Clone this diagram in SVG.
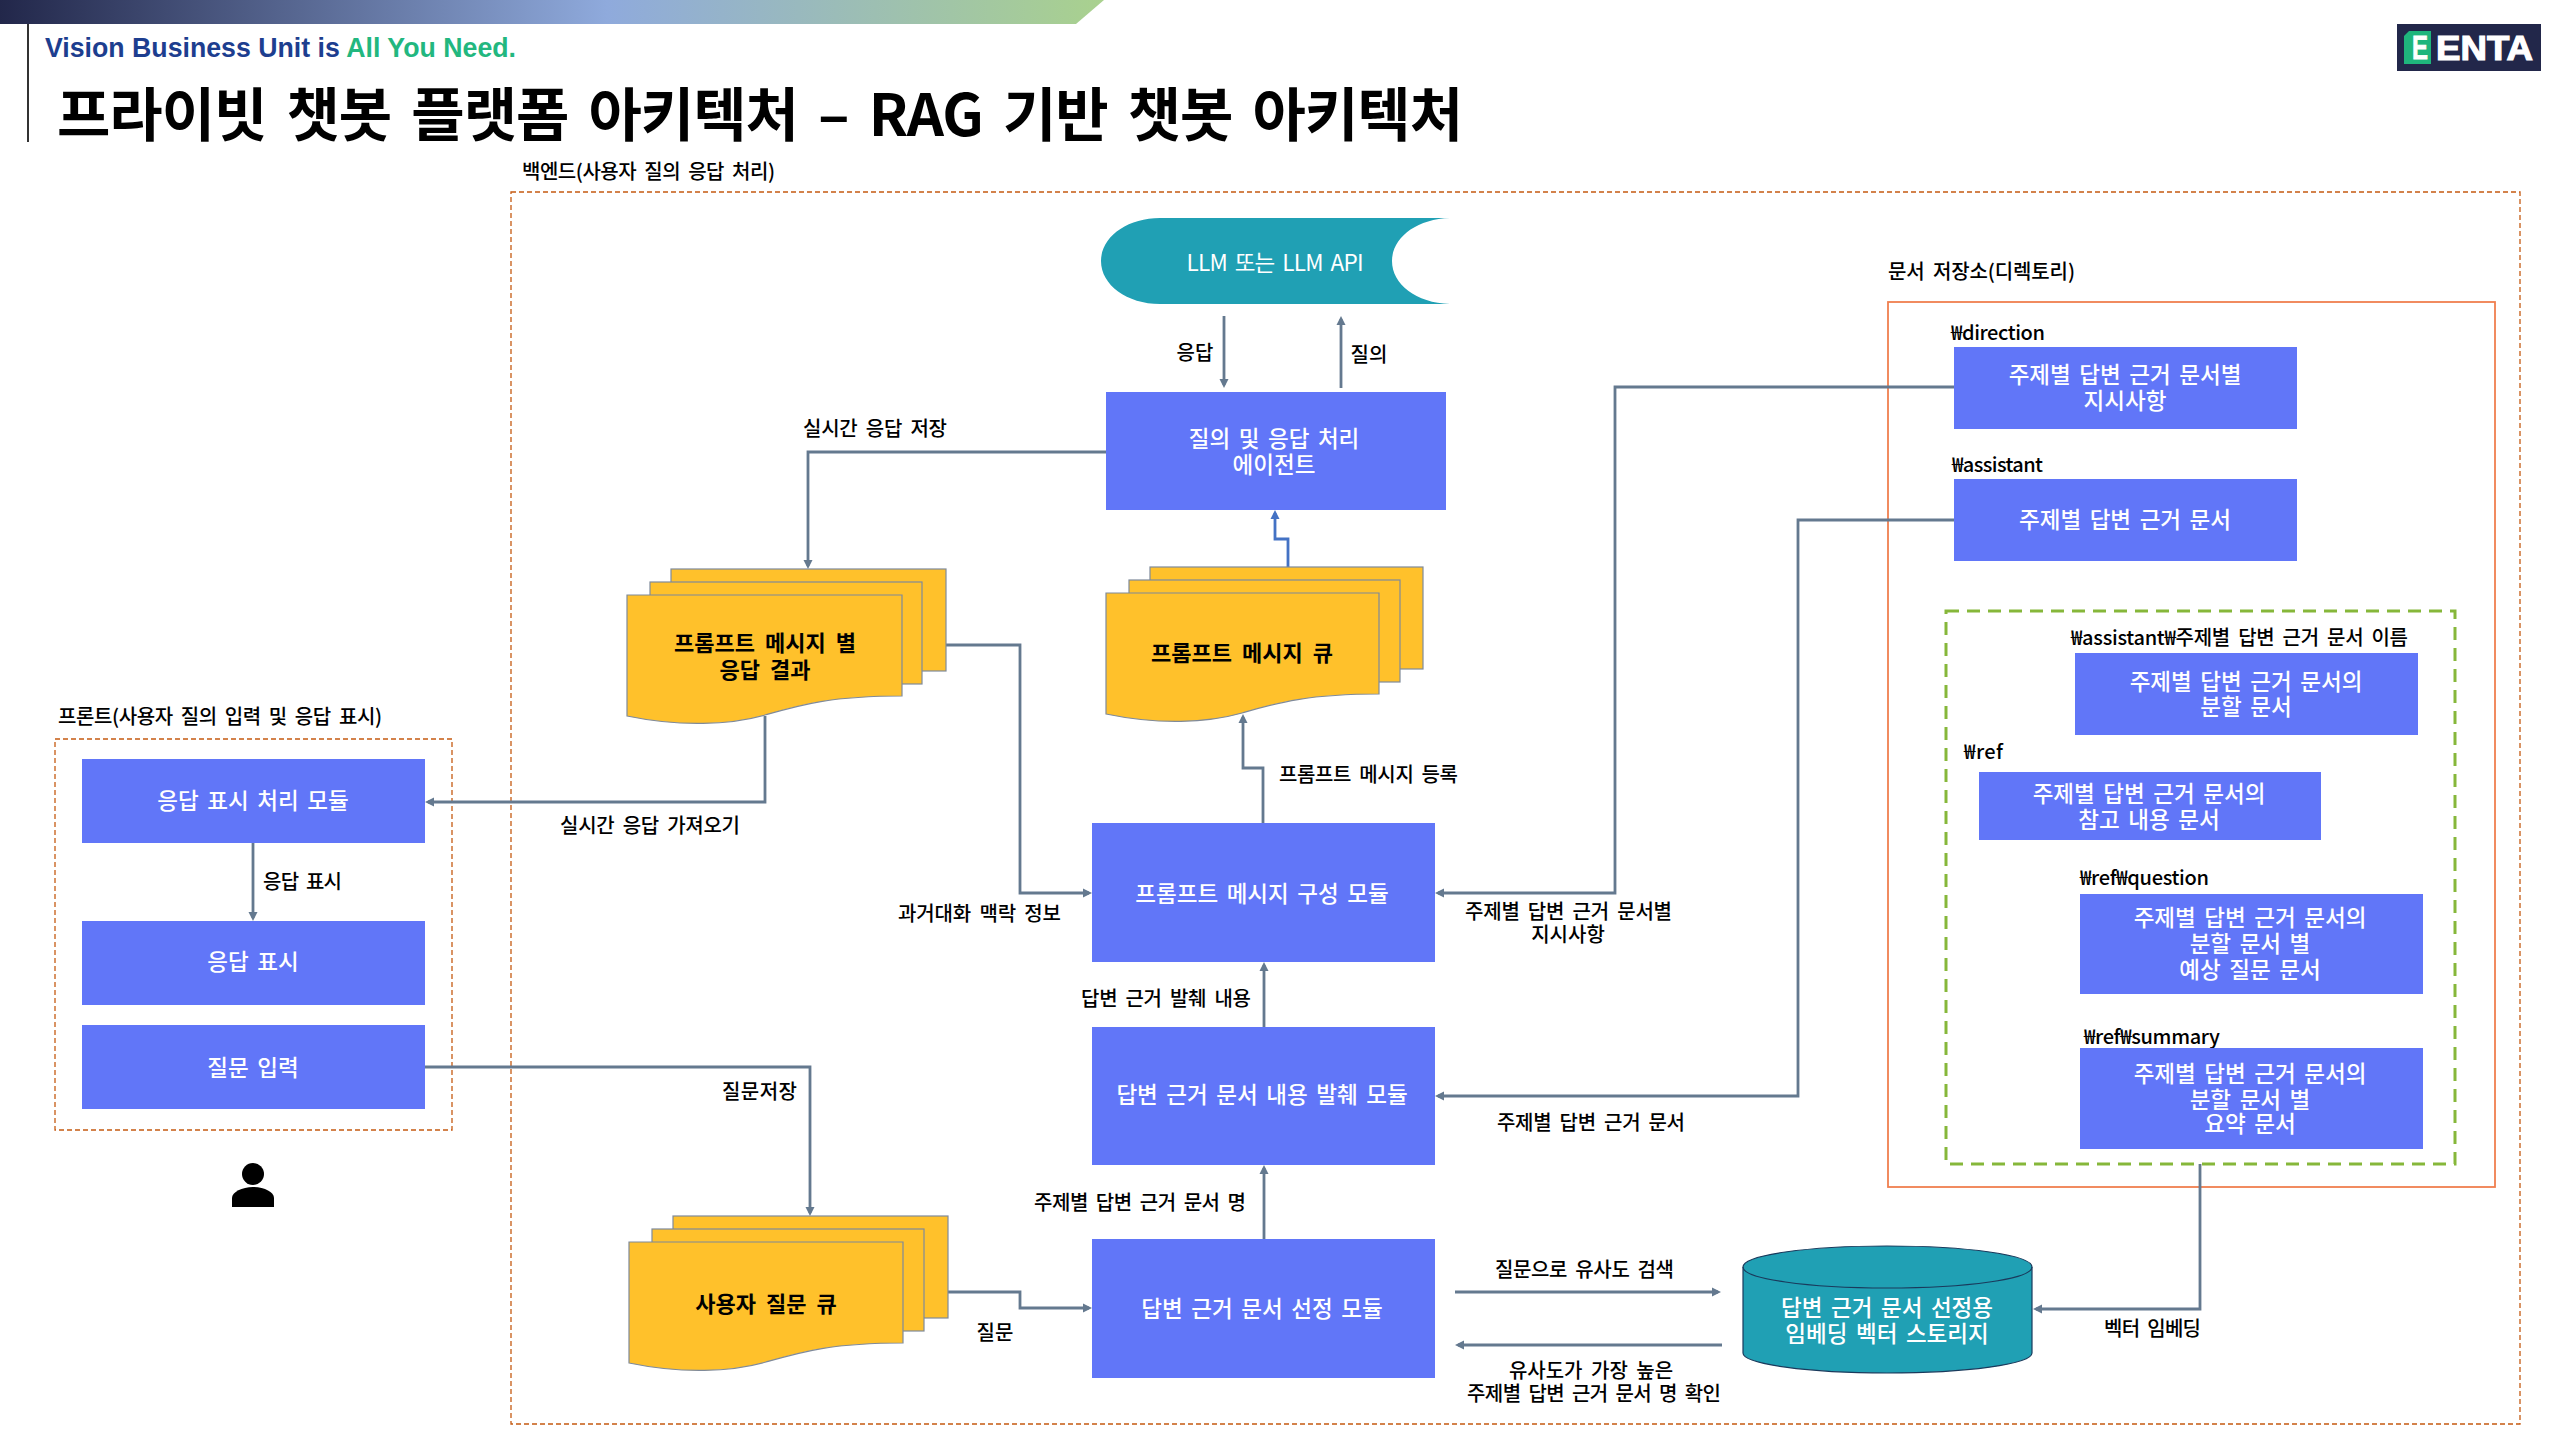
<svg xmlns="http://www.w3.org/2000/svg" width="2560" height="1440" viewBox="0 0 2560 1440">
<style>
text{font-family:"Noto Sans CJK KR","Noto Sans",sans-serif;dominant-baseline:central;transform:translateY(-1.2px)}
.box{fill:#6176F8}
.w{fill:#fff;font-size:22.5px;text-anchor:middle;font-weight:500;word-spacing:3.500px}
.k{fill:#000;font-size:20px;font-weight:500;word-spacing:4px;transform:translateY(-0.7px)}
.m{text-anchor:middle}
.b{fill:#000;font-size:22px;font-weight:700;text-anchor:middle;word-spacing:5px}
.doc{fill:#FFC12B;stroke:#7F8A9A;stroke-width:1.2}
.c{fill:none;stroke:#64798F;stroke-width:2.8}
.a{marker-end:url(#ah)}
.dash{fill:none;stroke:#C55A11;stroke-width:1.3;stroke-dasharray:5 3}
</style>
<defs>
<linearGradient id="bar" x1="0" x2="1" y1="0" y2="0"><stop offset="0" stop-color="#22274A"/><stop offset="0.55" stop-color="#8FAADC"/><stop offset="1" stop-color="#A9D18E"/></linearGradient>
<marker id="ah" markerUnits="userSpaceOnUse" markerWidth="12" markerHeight="12" viewBox="0 0 12 12" refX="8" refY="6" orient="auto"><path d="M2,1.5L11,6L2,10.500Z" fill="#64798F"/></marker>
<marker id="ab" markerUnits="userSpaceOnUse" markerWidth="12" markerHeight="12" viewBox="0 0 12 12" refX="8" refY="6" orient="auto"><path d="M2,1.5L11,6L2,10.500Z" fill="#4472C4"/></marker>
</defs>

<g id="header">
<path d="M0,0H1104L1076,24H0Z" fill="url(#bar)"/>
<rect x="27" y="24" width="2" height="118" fill="#333"/>
<text x="45" y="49" font-size="27" font-weight="700" style='font-family:"Liberation Sans",sans-serif' fill="#1D3E8F" textLength="471" lengthAdjust="spacingAndGlyphs">Vision Business Unit is <tspan fill="#22B77F">All You Need.</tspan></text>
<text x="57" y="112" font-size="58" font-weight="700" fill="#000" word-spacing="8" textLength="1406">프라이빗 챗봇 플랫폼 아키텍처 – RAG 기반 챗봇 아키텍처</text>
</g>
<g id="logo">
<rect x="2397" y="24" width="144" height="47" fill="#22274A"/>
<path d="M2409,31H2431V64H2404V36Z" fill="#1FB57C"/>
<text x="2412" y="49" font-size="33" font-weight="700" fill="#fff" stroke="#fff" stroke-width="0.8" style='font-family:"Liberation Sans",sans-serif' textLength="16" lengthAdjust="spacingAndGlyphs">E</text>
<text x="2436" y="49" font-size="35" font-weight="700" fill="#fff" stroke="#fff" stroke-width="1.200" style='font-family:"Liberation Sans",sans-serif' textLength="97" lengthAdjust="spacingAndGlyphs">ENTA</text>
</g>

<g id="backend-group">
<rect class="dash" x="511" y="192" width="2009" height="1232"/>
<text class="k" x="522" y="171" textLength="253">백엔드(사용자 질의 응답 처리)</text>
</g>
<g id="front-group">
<rect class="dash" x="55" y="739" width="397" height="391"/>
<text class="k" x="58" y="716" textLength="324">프론트(사용자 질의 입력 및 응답 표시)</text>
</g>
<g id="store-group">
<rect x="1888" y="302" width="607" height="885" fill="none" stroke="#F07F4F" stroke-width="1.8"/>
<text class="k" x="1888" y="271" textLength="187">문서 저장소(디렉토리)</text>
<rect x="1946" y="611" width="509" height="553" fill="none" stroke="#86B73A" stroke-width="3" stroke-dasharray="13 8"/>
<text class="k" x="1951" y="332" textLength="94">₩direction</text>
<text class="k" x="1952" y="464" textLength="91">₩assistant</text>
<text class="k" x="2071" y="637" textLength="337">₩assistant₩주제별 답변 근거 문서 이름</text>
<text class="k" x="1964" y="751" textLength="39">₩ref</text>
<text class="k" x="2080" y="877" textLength="129">₩ref₩question</text>
<text class="k" x="2084" y="1036" textLength="136">₩ref₩summary</text>
</g>

<g id="connectors">
<path class="c a" d="M1224,316V385"/>
<path class="c a" d="M1341,388V319"/>
<path d="M1288,568V539H1275V513" fill="none" stroke="#4472C4" stroke-width="2.8" marker-end="url(#ab)"/>
<path class="c a" d="M1106,452H808V566"/>
<path class="c a" d="M765,716V802H428"/>
<path class="c a" d="M946,645H1020V893H1089"/>
<path class="c a" d="M1263,823V768H1243V717"/>
<path class="c a" d="M1264,1027V965"/>
<path class="c a" d="M1264,1239V1168"/>
<path class="c a" d="M253,843V918"/>
<path class="c a" d="M425,1067H810V1213"/>
<path class="c a" d="M948,1292H1020V1308H1089"/>
<path class="c a" d="M1954,387H1615V893H1438"/>
<path class="c a" d="M1954,520H1798V1096H1438"/>
<path class="c a" d="M2200,1164V1309H2036"/>
<path class="c a" d="M1455,1292H1718"/>
<path class="c a" d="M1722,1345H1458"/>
</g>

<g id="connector-labels">
<text class="k m" x="1195" y="352">응답</text>
<text class="k m" x="1369" y="354">질의</text>
<text class="k" x="803" y="428" textLength="144">실시간 응답 저장</text>
<text class="k" x="1279" y="774" textLength="179">프롬프트 메시지 등록</text>
<text class="k" x="560" y="825" textLength="180">실시간 응답 가져오기</text>
<text class="k" x="898" y="913" textLength="163">과거대화 맥락 정보</text>
<text class="k" x="1081" y="998" textLength="170">답변 근거 발췌 내용</text>
<text class="k" x="1034" y="1202" textLength="212">주제별 답변 근거 문서 명</text>
<text class="k" x="1465" y="911" textLength="207">주제별 답변 근거 문서별</text>
<text class="k m" x="1568" y="934">지시사항</text>
<text class="k" x="1497" y="1122" textLength="188">주제별 답변 근거 문서</text>
<text class="k" x="263" y="881" textLength="79">응답 표시</text>
<text class="k" x="722" y="1091" textLength="75">질문저장</text>
<text class="k m" x="995" y="1332">질문</text>
<text class="k" x="1495" y="1269" textLength="179">질문으로 유사도 검색</text>
<text class="k m" x="1591" y="1370">유사도가 가장 높은</text>
<text class="k" x="1467" y="1393" textLength="254">주제별 답변 근거 문서 명 확인</text>
<text class="k" x="2104" y="1328" textLength="97">벡터 임베딩</text>
</g>

<g id="llm">
<path d="M1160,218H1450C1416,219 1392,238 1392,261C1392,284 1416,303 1450,304H1160C1127,304 1101,285 1101,261C1101,237 1127,218 1160,218Z" fill="#20A0B4"/>
<text class="w" x="1275" y="262" style="font-weight:400" textLength="177">LLM 또는 LLM API</text>
</g>
<g id="agent">
<rect class="box" x="1106" y="392" width="340" height="118"/>
<text class="w" x="1274" y="438">질의 및 응답 처리</text>
<text class="w" x="1274" y="464">에이전트</text>
</g>
<g id="result-stack">
<rect class="doc" x="671" y="569" width="275" height="102"/>
<rect class="doc" x="650" y="582" width="272" height="102"/>
<path class="doc" d="M627,595H902V696C830,696 800,705 765,715C730,725 680,727 627,716Z"/>
<text class="b" x="765" y="642">프롬프트 메시지 별</text>
<text class="b" x="765" y="669">응답 결과</text>
</g>
<g id="prompt-queue">
<rect class="doc" x="1150" y="567" width="273" height="102"/>
<rect class="doc" x="1129" y="580" width="271" height="102"/>
<path class="doc" d="M1106,593H1379V694C1307,694 1277,703 1242,713C1207,723 1159,725 1106,714Z"/>
<text class="b" x="1242" y="652">프롬프트 메시지 큐</text>
</g>
<g id="question-queue">
<rect class="doc" x="673" y="1216" width="275" height="102"/>
<rect class="doc" x="652" y="1229" width="272" height="102"/>
<path class="doc" d="M629,1242H903V1343C831,1343 801,1352 766,1362C731,1372 682,1374 629,1363Z"/>
<text class="b" x="766" y="1303">사용자 질문 큐</text>
</g>
<g id="build">
<rect class="box" x="1092" y="823" width="343" height="139"/>
<text class="w" x="1262" y="893">프롬프트 메시지 구성 모듈</text>
</g>
<g id="extract">
<rect class="box" x="1092" y="1027" width="343" height="138"/>
<text class="w" x="1262" y="1094">답변 근거 문서 내용 발췌 모듈</text>
</g>
<g id="select">
<rect class="box" x="1092" y="1239" width="343" height="139"/>
<text class="w" x="1262" y="1308">답변 근거 문서 선정 모듈</text>
</g>
<g id="display-module">
<rect class="box" x="82" y="759" width="343" height="84"/>
<text class="w" x="253" y="800">응답 표시 처리 모듈</text>
</g>
<g id="display">
<rect class="box" x="82" y="921" width="343" height="84"/>
<text class="w" x="253" y="961">응답 표시</text>
</g>
<g id="input">
<rect class="box" x="82" y="1025" width="343" height="84"/>
<text class="w" x="253" y="1067">질문 입력</text>
</g>
<g id="user">
<circle cx="253" cy="1174" r="11" fill="#000"/>
<path d="M232,1207V1198C232,1192 242,1187 253,1187C264,1187 274,1192 274,1198V1207Z" fill="#000"/>
</g>
<g id="direction">
<rect class="box" x="1954" y="347" width="343" height="82"/>
<text class="w" x="2125" y="374">주제별 답변 근거 문서별</text>
<text class="w" x="2125" y="400">지시사항</text>
</g>
<g id="assistant">
<rect class="box" x="1954" y="479" width="343" height="82"/>
<text class="w" x="2125" y="519">주제별 답변 근거 문서</text>
</g>
<g id="split">
<rect class="box" x="2075" y="653" width="343" height="82"/>
<text class="w" x="2246" y="681">주제별 답변 근거 문서의</text>
<text class="w" x="2246" y="706">분할 문서</text>
</g>
<g id="ref">
<rect class="box" x="1979" y="772" width="342" height="68"/>
<text class="w" x="2149" y="793">주제별 답변 근거 문서의</text>
<text class="w" x="2149" y="819">참고 내용 문서</text>
</g>
<g id="question">
<rect class="box" x="2080" y="894" width="343" height="100"/>
<text class="w" x="2250" y="917">주제별 답변 근거 문서의</text>
<text class="w" x="2250" y="943">분할 문서 별</text>
<text class="w" x="2250" y="969">예상 질문 문서</text>
</g>
<g id="summary">
<rect class="box" x="2080" y="1048" width="343" height="101"/>
<text class="w" x="2250" y="1073">주제별 답변 근거 문서의</text>
<text class="w" x="2250" y="1099">분할 문서 별</text>
<text class="w" x="2250" y="1123">요약 문서</text>
</g>
<g id="vector-store">
<path d="M1743,1267C1743,1255 1808,1246 1887,1246C1967,1246 2032,1255 2032,1267V1353C2032,1364 1967,1373 1887,1373C1808,1373 1743,1364 1743,1353Z" fill="#20A0B4" stroke="#1A3A5C" stroke-width="1.2"/>
<path d="M1743,1267C1743,1279 1808,1288 1887,1288C1967,1288 2032,1279 2032,1267" fill="none" stroke="#1A3A5C" stroke-width="1.2"/>
<text class="w" x="1887" y="1307">답변 근거 문서 선정용</text>
<text class="w" x="1887" y="1333">임베딩 벡터 스토리지</text>
</g>
</svg>
